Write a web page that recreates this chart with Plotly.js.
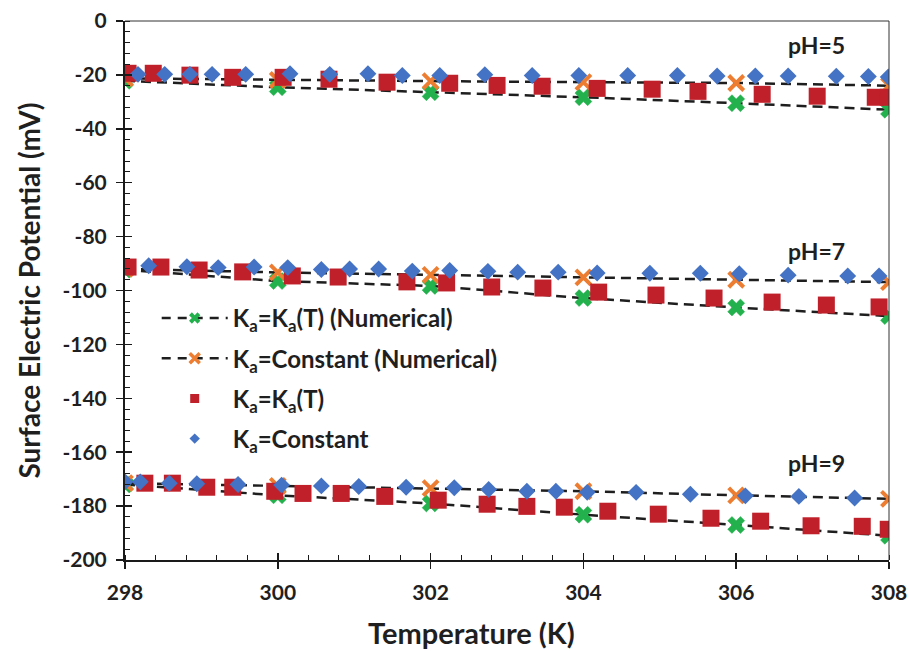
<!DOCTYPE html>
<html>
<head>
<meta charset="utf-8">
<script src="https://cdn.plot.ly/plotly-3.0.1.min.js"></script>
<style>
  html, body { margin: 0; padding: 0; background: #ffffff; }
  #chart { width: 910px; height: 651px; }
</style>
</head>
<body>
<div id="chart"></div>
<script>
// Temperatures of the numerical solutions (K)
var T_num = [298, 300, 302, 304, 306, 308];

// Numerical, Ka = Ka(T)
var num_kaT_pH5 = [-22.2, -24.6, -26.4, -28.3, -30.5, -32.9];
var num_kaT_pH7 = [-92.3, -96.5, -98.3, -102.8, -106.3, -109.5];
var num_kaT_pH9 = [-172.0, -176.0, -179.0, -183.2, -187.0, -191.0];

// Numerical, Ka = constant
var num_kaC_pH5 = [-21.3, -21.9, -22.3, -22.7, -23.0, -24.0];
var num_kaC_pH7 = [-92.0, -93.3, -94.2, -95.1, -96.0, -96.9];
var num_kaC_pH9 = [-171.5, -172.5, -173.3, -174.5, -176.0, -177.3];

// Ka = Ka(T) points
var T_kaT_pH5 = [298.04, 298.37, 298.85, 299.41, 300.07, 300.67, 301.43, 302.25, 302.87, 303.46, 304.18, 304.90, 305.50, 306.34, 307.06, 307.82, 307.99];
var V_kaT_pH5 = [-19.4, -19.4, -20.1, -20.9, -20.9, -21.6, -22.7, -23.1, -23.9, -24.2, -25.0, -25.3, -26.1, -27.2, -27.9, -28.3, -28.3];
var T_kaT_pH7 = [298.04, 298.47, 298.97, 299.54, 300.19, 300.79, 301.69, 302.21, 302.80, 303.47, 304.20, 304.95, 305.71, 306.47, 307.18, 307.87];
var V_kaT_pH7 = [-91.3, -91.3, -92.4, -93.1, -94.6, -95.0, -96.8, -97.2, -98.7, -99.1, -100.6, -101.7, -102.8, -104.3, -105.4, -106.1];
var T_kaT_pH9 = [298.26, 298.62, 299.07, 299.41, 299.96, 300.33, 300.83, 301.40, 302.10, 302.74, 303.26, 303.75, 304.32, 304.98, 305.67, 306.32, 306.98, 307.65, 307.99];
var V_kaT_pH9 = [-171.5, -171.5, -173.0, -173.0, -174.5, -175.3, -175.3, -176.4, -177.8, -179.3, -180.1, -180.4, -181.9, -183.0, -184.5, -185.6, -187.3, -187.5, -188.6];

// Ka = constant points
var T_kaC_pH5 = [298.17, 298.52, 298.85, 299.14, 299.58, 300.16, 300.68, 301.18, 301.63, 302.12, 302.71, 303.33, 303.94, 304.58, 305.23, 305.75, 306.25, 306.68, 307.31, 307.73, 307.99];
var V_kaC_pH5 = [-19.8, -19.8, -19.8, -19.8, -19.8, -19.6, -19.8, -19.6, -20.2, -20.2, -19.9, -20.2, -20.2, -20.2, -20.2, -20.4, -20.4, -20.4, -20.5, -20.6, -20.8];
var T_kaC_pH7 = [298.31, 298.81, 299.22, 299.69, 300.13, 300.57, 300.94, 301.32, 301.76, 302.25, 302.75, 303.14, 303.67, 304.18, 304.87, 305.53, 306.04, 306.68, 307.46, 307.87];
var V_kaC_pH7 = [-90.8, -91.2, -91.5, -91.3, -91.5, -92.2, -92.0, -92.0, -92.8, -92.6, -92.9, -93.2, -93.2, -93.5, -93.6, -93.6, -93.8, -94.3, -94.6, -94.6];
var T_kaC_pH9 = [298.0, 298.2, 298.58, 298.94, 299.48, 300.05, 300.57, 301.06, 301.68, 302.31, 302.76, 303.26, 303.64, 304.05, 304.69, 305.40, 306.12, 306.82, 307.55];
var V_kaC_pH9 = [-171.0, -171.0, -171.5, -171.7, -172.0, -172.2, -172.5, -172.7, -173.0, -173.2, -173.8, -174.5, -174.5, -174.9, -174.9, -175.6, -176.2, -176.4, -177.0];

// Tick labels
var xTickVals = [298, 300, 302, 304, 306, 308];
var xTickText = ['298', '300', '302', '304', '306', '308'];
var yTickVals = [0, -20, -40, -60, -80, -100, -120, -140, -160, -180, -200];
var yTickText = ['0', '-20', '-40', '-60', '-80', '-100', '-120', '-140', '-160', '-180', '-200'];

// Labels
var seriesNames = [
  'K<sub>a</sub>=K<sub>a</sub>(T) (Numerical)',
  'K<sub>a</sub>=Constant (Numerical)',
  'K<sub>a</sub>=K<sub>a</sub>(T)',
  'K<sub>a</sub>=Constant'
];
var phLabels = ['pH=5', 'pH=7', 'pH=9'];
var phLabelY = [-9, -85.5, -164];
var xTitle = 'Temperature (K)';
var yTitle = 'Surface Electric Potential (mV)';

var GREEN = '#22b14c', ORANGE = '#ed7d31', RED = '#c0202a', BLUE = '#4472c4';
var DASH = '10px,6px';
var FONT = 'Lato, "Open Sans", sans-serif';
var INK = '#1f1f1f';

var traces = [];

function numTrace(y, color, symbol, lw, group) {
  return {
    x: T_num, y: y, type: 'scatter', mode: 'lines+markers',
    line: { color: '#1e1e1e', width: 2.5, dash: DASH },
    marker: { color: color, symbol: symbol, size: 15, line: { color: color, width: lw } },
    legendgroup: group, showlegend: false, hoverinfo: 'x+y'
  };
}
function ptTrace(x, y, color, symbol, size, group) {
  return {
    x: x, y: y, type: 'scatter', mode: 'markers',
    marker: { color: color, symbol: symbol, size: size, line: { width: 0 } },
    legendgroup: group, showlegend: false, hoverinfo: 'x+y'
  };
}

[num_kaT_pH5, num_kaT_pH7, num_kaT_pH9].forEach(function (y) { traces.push(numTrace(y, GREEN, 'x', 0.5, 'g1')); });
[num_kaC_pH5, num_kaC_pH7, num_kaC_pH9].forEach(function (y) { traces.push(numTrace(y, ORANGE, 'x-thin', 4, 'g2')); });
traces.push(ptTrace(T_kaT_pH5, V_kaT_pH5, RED, 'square', 17, 'g3'));
traces.push(ptTrace(T_kaT_pH7, V_kaT_pH7, RED, 'square', 17, 'g3'));
traces.push(ptTrace(T_kaT_pH9, V_kaT_pH9, RED, 'square', 17, 'g3'));
traces.push(ptTrace(T_kaC_pH5, V_kaC_pH5, BLUE, 'diamond', 13, 'g4'));
traces.push(ptTrace(T_kaC_pH7, V_kaC_pH7, BLUE, 'diamond', 13, 'g4'));
traces.push(ptTrace(T_kaC_pH9, V_kaC_pH9, BLUE, 'diamond', 13, 'g4'));

// legend entries (empty data, they only carry the key symbols)
traces.push({ x: [null], y: [null], type: 'scatter', mode: 'lines+markers', name: seriesNames[0], legendgroup: 'g1',
  line: { color: '#1e1e1e', width: 2.5, dash: '9px,7px' }, marker: { color: GREEN, symbol: 'x', size: 10 } });
traces.push({ x: [null], y: [null], type: 'scatter', mode: 'lines+markers', name: seriesNames[1], legendgroup: 'g2',
  line: { color: '#1e1e1e', width: 2.5, dash: '9px,7px' }, marker: { color: ORANGE, symbol: 'x-thin', size: 10, line: { color: ORANGE, width: 3.5 } } });
traces.push({ x: [null], y: [null], type: 'scatter', mode: 'markers', name: seriesNames[2], legendgroup: 'g3',
  marker: { color: RED, symbol: 'square', size: 9 } });
traces.push({ x: [null], y: [null], type: 'scatter', mode: 'markers', name: seriesNames[3], legendgroup: 'g4',
  marker: { color: BLUE, symbol: 'diamond', size: 8 } });

// companion axes for the inner half of the crossing major ticks
traces.push({ x: [null], y: [null], xaxis: 'x2', yaxis: 'y2', type: 'scatter', mode: 'markers', showlegend: false, hoverinfo: 'skip' });

var annotations = phLabels.map(function (t, i) {
  return { x: 307.05, y: phLabelY[i], xref: 'x', yref: 'y', text: t, showarrow: false,
    font: { family: FONT, size: 23, color: INK, weight: 'bold' } };
});
annotations.push({
  x: 0.453, y: -0.135, xref: 'paper', yref: 'paper', xanchor: 'center', yanchor: 'middle',
  text: xTitle, showarrow: false, font: { family: FONT, size: 29, color: INK, weight: 'bold' }
});

var tickFont = { family: FONT, size: 21, color: INK, weight: 'bold' };

var layout = {
  width: 910, height: 651,
  margin: { l: 125, r: 21, t: 21, b: 91 },
  paper_bgcolor: '#ffffff', plot_bgcolor: '#ffffff',
  showlegend: true,
  legend: {
    x: 0.0415, y: 0.49, xanchor: 'left', yanchor: 'top',
    font: { family: FONT, size: 24, color: INK, weight: 'bold' },
    bgcolor: 'rgba(0,0,0,0)', tracegroupgap: 6, itemwidth: 66
  },
  xaxis: {
    range: [298, 308], tickvals: xTickVals, ticktext: xTickText,
    ticks: 'outside', ticklen: 7, tickwidth: 1.5, tickcolor: '#1a1a1a', ticklabelstandoff: 6,
    minor: { tick0: 298, dtick: 0.4, ticks: 'inside', ticklen: 5, tickwidth: 1, tickcolor: '#1a1a1a' },
    showgrid: false, zeroline: false, showline: true, linecolor: '#1a1a1a', linewidth: 2,
    tickfont: tickFont
  },
  yaxis: {
    range: [-200, 0], tickvals: yTickVals, ticktext: yTickText,
    ticks: 'outside', ticklen: 7, tickwidth: 1.5, tickcolor: '#1a1a1a', ticklabelstandoff: 5,
    minor: { tick0: 0, dtick: 4, ticks: 'inside', ticklen: 5, tickwidth: 1, tickcolor: '#1a1a1a' },
    showgrid: false, zeroline: false, showline: true, linecolor: '#1a1a1a', linewidth: 2,
    tickfont: tickFont,
    title: { text: yTitle, standoff: 14, font: { family: FONT, size: 28, color: INK, weight: 'bold' } }
  },
  xaxis2: {
    overlaying: 'x', anchor: 'y2', side: 'bottom', range: [298, 308], tickvals: xTickVals,
    ticks: 'inside', ticklen: 7, tickwidth: 1.5, tickcolor: '#1a1a1a', showticklabels: false,
    showgrid: false, zeroline: false, showline: false
  },
  yaxis2: {
    overlaying: 'y', anchor: 'x2', side: 'left', range: [-200, 0], tickvals: yTickVals,
    ticks: 'inside', ticklen: 7, tickwidth: 1.5, tickcolor: '#1a1a1a', showticklabels: false,
    showgrid: false, zeroline: false, showline: false
  },
  shapes: [
    { type: 'line', xref: 'paper', yref: 'paper', x0: 0, x1: 1, y0: 1, y1: 1, line: { color: '#333333', width: 1 } },
    { type: 'line', xref: 'paper', yref: 'paper', x0: 1, x1: 1, y0: 0, y1: 1, line: { color: '#333333', width: 1 } }
  ],
  annotations: annotations
};

Plotly.newPlot('chart', traces, layout, { displayModeBar: false, staticPlot: true });
</script>
</body>
</html>
